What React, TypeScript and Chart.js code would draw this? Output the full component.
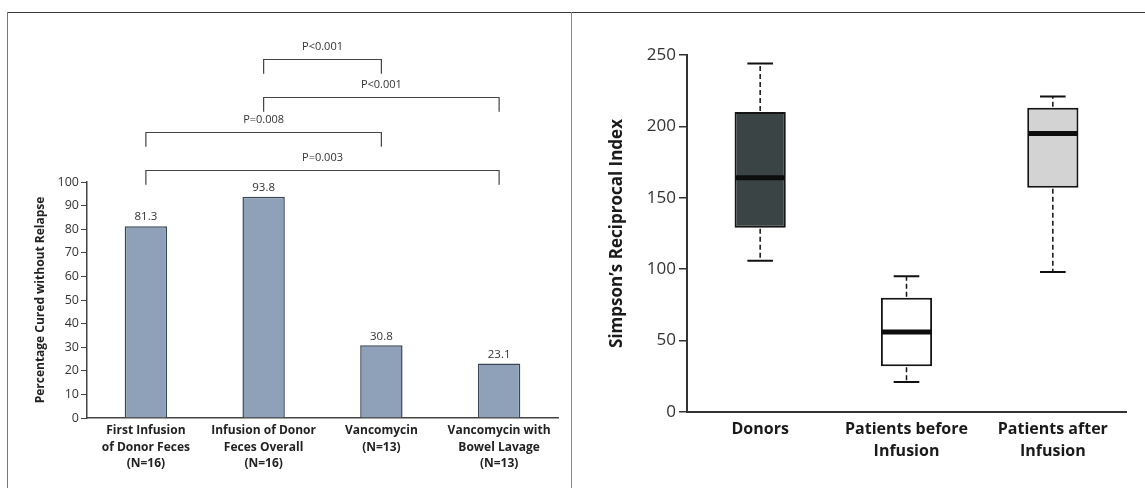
import React, { useEffect, useRef } from 'react';
import { Chart, registerables } from 'chart.js';

Chart.register(...registerables);

const FONT = "'Open Sans', 'Liberation Sans', sans-serif";

// ---- Left panel data ----
const barCategories = [
  ['First Infusion', 'of Donor Feces', '(N=16)'],
  ['Infusion of Donor', 'Feces Overall', '(N=16)'],
  ['Vancomycin', '(N=13)'],
  ['Vancomycin with', 'Bowel Lavage', '(N=13)'],
];
const barValues = [81.3, 93.8, 30.8, 23.1];
const barValueLabels = ['81.3', '93.8', '30.8', '23.1'];
const barAxisMin = 0;
const barAxisMax = 100;
const barAxisStep = 10;
const barAxisTitle = 'Percentage Cured without Relapse';

const bracketFrom = [0, 0, 1, 1];
const bracketTo = [3, 2, 3, 2];
const bracketLevels = [105, 121, 136, 152];
const bracketLabels = ['P=0.003', 'P=0.008', 'P<0.001', 'P<0.001'];

// ---- Right panel data ----
const boxCategories = ['Donors', ['Patients before', 'Infusion'], ['Patients after', 'Infusion']];
const boxMin = [106, 21, 98];
const boxQ1 = [129, 32, 157];
const boxMedian = [164, 56, 195];
const boxQ3 = [210, 80, 213];
const boxMax = [244, 95, 221];
const boxFills = ['#3a4445', '#ffffff', '#d3d3d3'];
const boxAxisMin = 0;
const boxAxisMax = 250;
const boxAxisStep = 50;
const boxAxisTitle = 'Simpson\u2019s Reciprocal Index';

const barAnnotations = {
  id: 'barAnnotations',
  afterDatasetsDraw(chart: any) {
    const { ctx } = chart;
    const x = chart.scales.x;
    const y = chart.scales.y;
    const meta = chart.getDatasetMeta(0);
    ctx.save();
    ctx.fillStyle = '#333';
    ctx.font = `11.5px ${FONT}`;
    ctx.textAlign = 'center';
    ctx.textBaseline = 'middle';
    meta.data.forEach((bar: any, i: number) => {
      ctx.fillText(barValueLabels[i], bar.x, bar.y - 9);
    });
    // significance brackets
    ctx.font = `11px ${FONT}`;
    ctx.strokeStyle = '#444';
    ctx.lineWidth = 1.2;
    const drop = y.getPixelForValue(0) - y.getPixelForValue(6);
    bracketLevels.forEach((lvl, i) => {
      const x1 = x.getPixelForValue(bracketFrom[i]);
      const x2 = x.getPixelForValue(bracketTo[i]);
      const yy = Math.round(y.getPixelForValue(lvl)) + 0.5;
      ctx.beginPath();
      ctx.moveTo(x1, yy + drop);
      ctx.lineTo(x1, yy);
      ctx.lineTo(x2, yy);
      ctx.lineTo(x2, yy + drop);
      ctx.stroke();
      ctx.fillText(bracketLabels[i], (x1 + x2) / 2, yy - 13);
    });
    ctx.restore();
  },
};

const boxWhiskers = {
  id: 'boxWhiskers',
  afterDatasetsDraw(chart: any) {
    const { ctx } = chart;
    const y = chart.scales.y;
    const meta = chart.getDatasetMeta(0);
    ctx.save();
    meta.data.forEach((bar: any, i: number) => {
      const cx = bar.x;
      const w = bar.width;
      const yQ1 = y.getPixelForValue(boxQ1[i]);
      const yQ3 = y.getPixelForValue(boxQ3[i]);
      const yMin = y.getPixelForValue(boxMin[i]);
      const yMax = y.getPixelForValue(boxMax[i]);
      const yMed = y.getPixelForValue(boxMedian[i]);
      // dashed whiskers
      ctx.strokeStyle = '#111';
      ctx.lineWidth = 1.5;
      ctx.setLineDash([5, 3]);
      ctx.beginPath();
      ctx.moveTo(cx, yQ3 - 1);
      ctx.lineTo(cx, yMax);
      ctx.moveTo(cx, yQ1 + 1);
      ctx.lineTo(cx, yMin);
      ctx.stroke();
      ctx.setLineDash([]);
      // caps
      ctx.lineWidth = 2;
      const cap = w * 0.25;
      ctx.beginPath();
      ctx.moveTo(cx - cap, yMax);
      ctx.lineTo(cx + cap, yMax);
      ctx.moveTo(cx - cap, yMin);
      ctx.lineTo(cx + cap, yMin);
      ctx.stroke();
      // median
      ctx.lineWidth = 5;
      ctx.strokeStyle = '#0d0d0d';
      ctx.beginPath();
      ctx.moveTo(cx - w / 2 + 1, yMed);
      ctx.lineTo(cx + w / 2 - 1, yMed);
      ctx.stroke();
    });
    ctx.restore();
  },
};

function BarPanel() {
  const ref = useRef<HTMLCanvasElement>(null);
  useEffect(() => {
    const chart = new Chart(ref.current as HTMLCanvasElement, {
      type: 'bar',
      data: {
        labels: barCategories as any,
        datasets: [
          {
            data: barValues,
            backgroundColor: '#8ea1b9',
            borderColor: '#3a4656',
            borderWidth: 1.5,
            borderSkipped: 'bottom',
            barPercentage: 0.36,
            categoryPercentage: 1,
          },
        ],
      },
      options: {
        animation: false,
        responsive: false,
        devicePixelRatio: 1,
        layout: { padding: { top: 169, right: 13, bottom: 0, left: 0 } },
        plugins: { legend: { display: false }, tooltip: { enabled: false } },
        scales: {
          x: {
            afterFit: (s: any) => {
              s.height = 70;
            },
            grid: { display: false, drawTicks: false },
            border: { display: true, color: '#444', width: 1.5 },
            ticks: {
              autoSkip: false,
              maxRotation: 0,
              minRotation: 0,
              padding: 4,
              color: '#222',
              font: { family: FONT, size: 12, weight: 'bold', lineHeight: 1.4 },
            },
          },
          y: {
            min: barAxisMin,
            max: barAxisMax,
            afterFit: (s: any) => {
              s.width = 78;
            },
            grid: { display: true, drawOnChartArea: false, drawTicks: true, tickLength: 6, color: '#444' },
            border: { display: true, color: '#444', width: 1.5 },
            ticks: {
              stepSize: barAxisStep,
              padding: 2,
              color: '#333',
              font: { family: FONT, size: 12.5 },
            },
            title: {
              display: true,
              text: barAxisTitle,
              color: '#222',
              padding: { top: 24, bottom: 0 },
              font: { family: FONT, size: 12, weight: 'bold' },
            },
          },
        },
      },
      plugins: [barAnnotations],
    });
    return () => chart.destroy();
  }, []);
  return (
    <canvas
      ref={ref}
      width={562}
      height={475}
      style={{ position: 'absolute', left: 9, top: 13, width: 562, height: 475 }}
    />
  );
}

function BoxPanel() {
  const ref = useRef<HTMLCanvasElement>(null);
  useEffect(() => {
    const chart = new Chart(ref.current as HTMLCanvasElement, {
      type: 'bar',
      data: {
        labels: boxCategories as any,
        datasets: [
          {
            data: boxQ1.map((q, i) => [q, boxQ3[i]]) as any,
            backgroundColor: boxFills,
            borderColor: '#151515',
            borderWidth: 2,
            borderSkipped: false,
            barPercentage: 0.35,
            categoryPercentage: 1,
          },
        ],
      },
      options: {
        animation: false,
        responsive: false,
        devicePixelRatio: 1,
        layout: { padding: { top: 42, right: 19, bottom: 0, left: 0 } },
        plugins: { legend: { display: false }, tooltip: { enabled: false } },
        scales: {
          x: {
            afterFit: (s: any) => {
              s.height = 76;
            },
            grid: { display: false, drawTicks: false },
            border: { display: true, color: '#333', width: 2 },
            ticks: {
              autoSkip: false,
              maxRotation: 0,
              minRotation: 0,
              padding: 7,
              color: '#1a1a1a',
              font: { family: FONT, size: 16, weight: 'bold', lineHeight: 1.35 },
            },
          },
          y: {
            min: boxAxisMin,
            max: boxAxisMax,
            afterFit: (s: any) => {
              s.width = 115;
            },
            grid: { display: true, drawOnChartArea: false, drawTicks: true, tickLength: 8, color: '#333', lineWidth: 1.5 },
            border: { display: true, color: '#333', width: 2 },
            ticks: {
              stepSize: boxAxisStep,
              padding: 3,
              color: '#333',
              font: { family: FONT, size: 17 },
            },
            title: {
              display: true,
              text: boxAxisTitle,
              color: '#1a1a1a',
              padding: { top: 35, bottom: 0 },
              font: { family: FONT, size: 17, weight: 'bold' },
            },
          },
        },
      },
      plugins: [boxWhiskers],
    });
    return () => chart.destroy();
  }, []);
  return (
    <canvas
      ref={ref}
      width={573}
      height={475}
      style={{ position: 'absolute', left: 572, top: 13, width: 573, height: 475 }}
    />
  );
}

export default function App() {
  return (
    <div
      style={{
        position: 'absolute',
        left: 0,
        top: 0,
        width: 1145,
        height: 488,
        background: '#ffffff',
        overflow: 'hidden',
      }}
    >
      <BarPanel />
      <BoxPanel />
      <div style={{ position: 'absolute', left: 8, top: 12, width: 1137, height: 0, borderTop: '1.5px solid #3a3a3a' }} />
      <div style={{ position: 'absolute', left: 7, top: 12, width: 0, height: 476, borderLeft: '1.5px solid #777' }} />
      <div style={{ position: 'absolute', left: 571, top: 12, width: 0, height: 476, borderLeft: '1.5px solid #888' }} />
    </div>
  );
}
